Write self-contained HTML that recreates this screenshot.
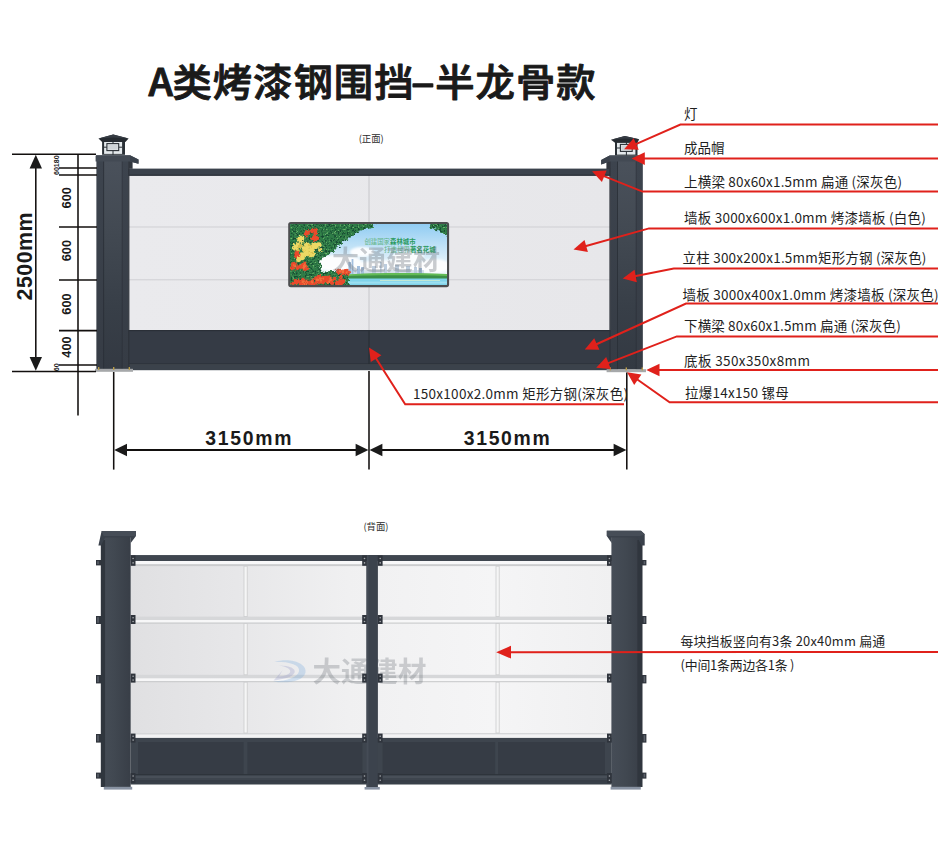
<!DOCTYPE html>
<html lang="zh-CN">
<head>
<meta charset="utf-8">
<title>A类烤漆钢围挡-半龙骨款</title>
<style>
html,body{margin:0;padding:0;background:#fff;}
body{width:950px;height:855px;overflow:hidden;position:relative;}
svg{position:absolute;left:0;top:0;display:block;}
text{font-family:"Liberation Sans","Noto Sans CJK SC",sans-serif;}
.cjk{font-family:"Noto Sans CJK SC","Liberation Sans",sans-serif;}
.lbl{font-family:"Noto Sans CJK SC","Liberation Sans",sans-serif;font-size:13.5px;fill:#1f1f1f;}
.dim{font-family:"Liberation Sans",sans-serif;font-weight:700;fill:#1a1a1a;}
.red{stroke:#e0211b;stroke-width:2;fill:none;stroke-linejoin:miter;}
.redf{fill:#e0211b;stroke:none;}
.blk{stroke:#120f0e;stroke-width:1.55;fill:none;}
</style>
</head>
<body>
<svg width="950" height="855" viewBox="0 0 950 855">
<defs>
  <linearGradient id="gPanel" x1="0" y1="0" x2="1" y2="0">
    <stop offset="0" stop-color="#eaeaed"/>
    <stop offset="1" stop-color="#e7e7ea"/>
  </linearGradient>
  <linearGradient id="gBack" x1="0" y1="0" x2="1" y2="0">
    <stop offset="0" stop-color="#e0e0e2"/>
    <stop offset="0.22" stop-color="#e7e7e9"/>
    <stop offset="0.45" stop-color="#f0f0f1"/>
    <stop offset="0.75" stop-color="#f5f5f6"/>
    <stop offset="1" stop-color="#f0f0f1"/>
  </linearGradient>
  <linearGradient id="gSky" x1="0" y1="0" x2="0" y2="1">
    <stop offset="0" stop-color="#8ecbf2"/>
    <stop offset="0.55" stop-color="#d9edf9"/>
    <stop offset="0.8" stop-color="#eef6fb"/>
    <stop offset="1" stop-color="#8fd6ea"/>
  </linearGradient>
  <clipPath id="cpPoster"><rect x="290" y="224" width="157" height="61" rx="1"/></clipPath>
  <filter id="blur1" x="-20%" y="-20%" width="140%" height="140%"><feGaussianBlur stdDeviation="1.2"/></filter>
  <filter id="blur2" x="-20%" y="-20%" width="140%" height="140%"><feGaussianBlur stdDeviation="0.5"/></filter>
  <filter id="leafy" x="-10%" y="-10%" width="120%" height="120%" color-interpolation-filters="sRGB">
    <feTurbulence type="fractalNoise" baseFrequency="0.3" numOctaves="2" seed="7" result="n1"/>
    <feDisplacementMap in="SourceGraphic" in2="n1" scale="7" xChannelSelector="R" yChannelSelector="G" result="shape"/>
    <feTurbulence type="fractalNoise" baseFrequency="0.55" numOctaves="2" seed="11" result="n2"/>
    <feColorMatrix in="n2" type="matrix" values="0 0 0 0 0.42  0 0 0 0 0.72  0 0 0 0 0.42  5 0 0 0 -2.95" result="light"/>
    <feColorMatrix in="n2" type="matrix" values="0 0 0 0 0.09  0 0 0 0 0.30  0 0 0 0 0.20  0 5 0 0 -2.4" result="dark"/>
    <feComposite in="light" in2="shape" operator="in" result="l2"/>
    <feComposite in="dark" in2="shape" operator="in" result="d2"/>
    <feMerge result="m"><feMergeNode in="shape"/><feMergeNode in="d2"/><feMergeNode in="l2"/></feMerge>
    <feGaussianBlur in="m" stdDeviation="0.45"/>
  </filter>
  <filter id="ragged" x="-20%" y="-20%" width="140%" height="140%" color-interpolation-filters="sRGB">
    <feTurbulence type="fractalNoise" baseFrequency="0.6" numOctaves="2" seed="5" result="n"/>
    <feDisplacementMap in="SourceGraphic" in2="n" scale="3.5" xChannelSelector="R" yChannelSelector="B" result="d"/>
    <feGaussianBlur in="d" stdDeviation="0.35"/>
  </filter>
  <linearGradient id="gPostL" x1="0" y1="0" x2="1" y2="0">
    <stop offset="0" stop-color="#464d57"/><stop offset="0.45" stop-color="#414851"/><stop offset="1" stop-color="#383e47"/>
  </linearGradient>
  <linearGradient id="gPostR" x1="0" y1="0" x2="1" y2="0">
    <stop offset="0" stop-color="#383e47"/><stop offset="0.55" stop-color="#414851"/><stop offset="1" stop-color="#464d57"/>
  </linearGradient>
  <linearGradient id="gFacet" x1="0" y1="0" x2="0" y2="1">
    <stop offset="0" stop-color="#4a515b"/><stop offset="0.35" stop-color="#424952"/><stop offset="0.7" stop-color="#383f48"/><stop offset="1" stop-color="#333942"/>
  </linearGradient>
  <linearGradient id="gSide" x1="0" y1="0" x2="0" y2="1">
    <stop offset="0" stop-color="#3d444e"/><stop offset="1" stop-color="#363c45"/>
  </linearGradient>
</defs>

<!-- ================= TITLE ================= -->
<g id="title" class="cjk" font-size="38" font-weight="500" fill="#1a1a1a" stroke="#1a1a1a" stroke-width="1" stroke-linejoin="round" stroke-linecap="round" letter-spacing="1">
  <text class="cjk" transform="translate(148.6,96) scale(1.035,1)">A</text>
  <text class="cjk" transform="translate(172.4,96) scale(1.035,1)">类烤漆钢围挡</text>
  <text class="cjk" transform="translate(410,96) scale(1.9,1)">-</text>
  <text class="cjk" transform="translate(435.2,96) scale(1.035,1)">半龙骨款</text>
</g>

<!-- ================= FRONT VIEW ================= -->
<g id="front">
  <text class="cjk" x="371.2" y="142.4" font-size="9.4" fill="#2a2a2a" text-anchor="middle">(正面)</text>

  <!-- wall panels -->
  <rect x="129" y="175" width="482" height="156" fill="url(#gPanel)"/>
  <line x1="129" y1="227" x2="611" y2="227" stroke="#cfcfd3" stroke-width="1"/>
  <line x1="129" y1="279.8" x2="611" y2="279.8" stroke="#cfcfd3" stroke-width="1"/>
  <line x1="369" y1="175" x2="369" y2="331" stroke="#c6c6ca" stroke-width="1"/>
  <!-- top beam -->
  <rect x="128" y="168.6" width="484" height="7" fill="#3b424c"/>
  <rect x="128" y="174.6" width="484" height="1.2" fill="#2b3038"/>
  <!-- dark lower panel -->
  <rect x="128" y="330" width="484" height="34.5" fill="#353b45"/>
  <rect x="128" y="330" width="484" height="1.2" fill="#2a2f37"/>
  <rect x="128" y="363.6" width="484" height="1.2" fill="#262b32"/>
  <rect x="128" y="364.8" width="484" height="5.4" fill="#3b424b"/>
  <line x1="369" y1="331" x2="369" y2="364" stroke="#272c33" stroke-width="1"/>

  <!-- left post -->
  <g id="postL">
    <rect x="96.6" y="160" width="31.8" height="209" fill="url(#gFacet)"/>
    <rect x="96.6" y="160" width="6.6" height="209" fill="url(#gSide)"/>
    <rect x="103.2" y="160" width="0.9" height="209" fill="#2b3038"/>
    <rect x="121.8" y="160" width="0.9" height="209" fill="#2b3038"/>
    <rect x="122.7" y="160" width="5.7" height="209" fill="url(#gSide)"/>
    <rect x="128.2" y="161" width="1.2" height="208" fill="#2d323a"/>
    <rect x="128.4" y="161" width="4.2" height="7.8" fill="#31363e"/>
    <!-- cap -->
    <polygon points="96.2,155.2 130,155.2 138.5,159.4 138.5,163.8 130,161.6 95.6,161.4 95.6,156" fill="#434a54"/>
    <polygon points="130,155.2 138.5,159.4 138.5,163.8 130,161.6" fill="#3a414b"/>
    <rect x="96" y="155.1" width="34" height="0.9" fill="#525963"/>
    <!-- base plate -->
    <rect x="95" y="368.8" width="38" height="3" fill="#a6a8aa"/>
    <rect x="98" y="367" width="1.4" height="3" fill="#b79b4a"/>
    <rect x="113" y="367" width="1.4" height="3" fill="#b79b4a"/>
    <rect x="128.6" y="367" width="1.4" height="3" fill="#b79b4a"/>
    <!-- lamp -->
    <g id="lampL">
      <rect x="102.1" y="141" width="22.9" height="13.8" fill="#2a3036"/>
      <rect x="104.1" y="141.6" width="18" height="12.3" fill="#e4e9ec"/>
      <g stroke="#2a3036" stroke-width="1" fill="none">
        <line x1="113" y1="141" x2="113" y2="155"/>
        <line x1="104" y1="147.2" x2="107" y2="147.2"/>
        <line x1="118.6" y1="147.2" x2="122.2" y2="147.2"/>
      </g>
      <rect x="106.9" y="143.6" width="11.8" height="7" fill="#dfe3e6" stroke="#2a3036" stroke-width="1.1"/>
      <rect x="108.1" y="144.9" width="9.4" height="4.4" fill="#cfd4d8"/>
      <polygon points="98.5,138.6 113.2,134.4 128.6,138.6 125.4,142 102.1,142" fill="#262b31"/>
      <polygon points="98.5,138.6 113.2,134.4 128.6,138.6 113.2,137.4" fill="#363c44"/>
    </g>
  </g>

  <!-- right post -->
  <g id="postR">
    <rect x="610.4" y="160" width="32.2" height="209.6" fill="url(#gFacet)"/>
    <rect x="610.4" y="160" width="6.6" height="209.6" fill="url(#gSide)"/>
    <rect x="617" y="160" width="0.9" height="209.6" fill="#2b3038"/>
    <rect x="635.8" y="160" width="0.9" height="209.6" fill="#2b3038"/>
    <rect x="636.7" y="160" width="5.9" height="209.6" fill="url(#gSide)"/>
    <rect x="609.4" y="161" width="1.2" height="208" fill="#2d323a"/>
    <rect x="606.4" y="161" width="4.2" height="8" fill="#31363e"/>
    <polygon points="642.6,155.4 609.6,155.4 601.2,160 601.2,164.4 609.6,161.6 643,161.4 643,156" fill="#434a54"/>
    <polygon points="609.6,155.4 601.2,160 601.2,164.4 609.6,161.6" fill="#3a414b"/>
    <rect x="609.6" y="155.3" width="33" height="0.9" fill="#525963"/>
    <rect x="606.6" y="369.2" width="39.4" height="3" fill="#a6a8aa"/>
    <rect x="609.6" y="367.4" width="1.4" height="3" fill="#b79b4a"/>
    <rect x="625.6" y="367.4" width="1.4" height="3" fill="#b79b4a"/>
    <rect x="641.6" y="367.4" width="1.4" height="3" fill="#b79b4a"/>
    <g id="lampR">
      <rect x="615" y="142" width="22.5" height="13.4" fill="#2a3036"/>
      <rect x="617" y="142.6" width="18.4" height="12" fill="#e4e9ec"/>
      <g stroke="#2a3036" stroke-width="1" fill="none">
        <line x1="626.4" y1="142" x2="626.4" y2="155.4"/>
        <line x1="617" y1="148" x2="620.6" y2="148"/>
        <line x1="632" y1="148" x2="635.4" y2="148"/>
      </g>
      <rect x="620.4" y="144.4" width="11.8" height="7" fill="#dfe3e6" stroke="#2a3036" stroke-width="1.1"/>
      <rect x="621.6" y="145.7" width="9.4" height="4.4" fill="#cfd4d8"/>
      <polygon points="611,139.8 624.8,136 639.2,139.2 637.4,142.8 615,142.8" fill="#262b31"/>
      <polygon points="611,139.8 624.8,136 639.2,139.2 624.8,138.6" fill="#363c44"/>
    </g>
  </g>

  <!-- poster -->
  <g id="poster">
    <rect x="288.2" y="222" width="160.9" height="65.2" rx="2.6" fill="#4c4d4f"/>
    <g clip-path="url(#cpPoster)">
      <rect x="289" y="223" width="159" height="63" fill="url(#gSky)"/>
      <!-- clouds -->
      <g filter="url(#blur1)" fill="#ffffff" opacity="0.92">
        <ellipse cx="338" cy="263" rx="24" ry="8"/>
        <ellipse cx="392" cy="267" rx="40" ry="7"/>
        <ellipse cx="434" cy="266" rx="16" ry="7"/>
        <ellipse cx="362" cy="252" rx="12" ry="5"/>
        <ellipse cx="408" cy="257" rx="16" ry="5"/>
      </g>
      <!-- skyline -->
      <g fill="#8aa6c4" opacity="0.55" filter="url(#blur2)">
        <rect x="340" y="270" width="84" height="4" opacity="0.6"/>
        <rect x="348.4" y="262" width="2.6" height="12" fill="#5b8dc4"/>
        <rect x="351.6" y="259" width="1.8" height="15" fill="#5b8dc4"/>
        <rect x="357" y="266" width="3" height="8" fill="#5b8dc4"/>
        <rect x="361" y="267" width="3" height="7" fill="#6c98c8"/>
        <rect x="372" y="266" width="4" height="8"/>
        <rect x="380" y="262" width="1.6" height="12"/>
        <rect x="384" y="264" width="3" height="10"/>
        <rect x="395" y="265" width="4" height="9"/>
        <rect x="406" y="266" width="4" height="8"/>
        <rect x="414" y="267" width="3" height="7"/>
        <rect x="419" y="268" width="3" height="6" fill="#5b8dc4"/>
      </g>
      <!-- water -->
      <rect x="330" y="278" width="120" height="9" fill="#7fd3ea"/>
      <rect x="340" y="281.6" width="110" height="2" fill="#a5e2f1" opacity="0.8"/>
      <rect x="380" y="280.2" width="60" height="0.7" fill="#e9f3c9" opacity="0.9"/>
      <!-- island -->
      <path d="M326 278.6 C350 272.6 400 273 449 274.2 L449 278.6Z" fill="#3b8f47"/>
      <path d="M334 275.6 C365 272.4 410 272.8 449 274 L449 276 C410 275 365 275 334 276.6Z" fill="#63bb56"/>
      <!-- foliage -->
      <g filter="url(#leafy)">
        <path d="M284 218 L382 218 C376 228 364 228 356 233 C349 238 344 241 338 247 C332 253 328 255 322 258 C319 262 320 268 322 272 C330 271 340 270 349 273 L349 291 L284 291Z" fill="#2f7d47"/>
        <path d="M423 218 L453 218 L453 237 C447 236 440 233 434 229 C429 226 426 222 423 218Z" fill="#2f7d47"/>
      </g>
      <!-- flowers -->
      <g filter="url(#ragged)">
        <g fill="#ecd965"><circle cx="299.2" cy="239.9" r="2.2"/><circle cx="301.5" cy="238.0" r="2.6"/><circle cx="301.6" cy="238.4" r="2.6"/><circle cx="300.1" cy="238.2" r="2.4"/><circle cx="300.6" cy="240.3" r="2.8"/><circle cx="296.6" cy="245.8" r="2.1"/><circle cx="306.4" cy="249.6" r="2.6"/><circle cx="313.9" cy="246.6" r="2.8"/><circle cx="295.0" cy="246.1" r="2.7"/><circle cx="312.5" cy="246.8" r="2.1"/><circle cx="299.7" cy="245.7" r="2.3"/><circle cx="314.9" cy="245.6" r="3.0"/><circle cx="316.8" cy="244.8" r="2.4"/><circle cx="306.0" cy="244.6" r="2.5"/><circle cx="317.6" cy="245.1" r="2.7"/><circle cx="295.6" cy="247.7" r="3.0"/><circle cx="297.9" cy="244.5" r="2.1"/><circle cx="307.3" cy="244.6" r="2.1"/><circle cx="306.1" cy="249.6" r="2.5"/><circle cx="303.3" cy="248.0" r="2.1"/><circle cx="308.4" cy="245.4" r="2.7"/><circle cx="319.0" cy="244.8" r="2.6"/><circle cx="309.2" cy="245.3" r="2.3"/><circle cx="320.1" cy="250.0" r="2.1"/><circle cx="312.0" cy="249.7" r="2.3"/><circle cx="310.1" cy="250.3" r="2.4"/><circle cx="310.6" cy="254.4" r="2.9"/><circle cx="305.9" cy="252.6" r="3.0"/><circle cx="309.9" cy="253.4" r="2.4"/><circle cx="313.1" cy="254.3" r="2.0"/><circle cx="311.6" cy="252.5" r="2.5"/><circle cx="306.9" cy="253.3" r="2.4"/><circle cx="305.9" cy="254.7" r="2.1"/><circle cx="301.9" cy="255.1" r="2.9"/><circle cx="302.0" cy="257.5" r="2.8"/><circle cx="298.7" cy="258.7" r="2.5"/><circle cx="298.6" cy="259.8" r="2.4"/></g>
        <g fill="#d9bf4a"><circle cx="303.2" cy="250.2" r="1.2"/><circle cx="310.2" cy="246.0" r="1.5"/><circle cx="300.4" cy="245.3" r="1.6"/><circle cx="298.3" cy="250.7" r="1.6"/><circle cx="308.8" cy="245.1" r="1.0"/><circle cx="299.2" cy="247.3" r="1.4"/><circle cx="312.0" cy="253.1" r="1.1"/><circle cx="309.6" cy="251.8" r="1.1"/><circle cx="309.5" cy="255.2" r="1.0"/></g>
        <g fill="#ea4a2c"><circle cx="314.7" cy="237.4" r="2.5"/><circle cx="314.3" cy="239.6" r="1.9"/><circle cx="316.1" cy="238.3" r="2.6"/><circle cx="314.9" cy="230.2" r="1.7"/><circle cx="315.1" cy="231.1" r="2.3"/><circle cx="312.7" cy="238.4" r="1.9"/><circle cx="312.3" cy="231.1" r="2.2"/><circle cx="315.3" cy="233.7" r="1.9"/><circle cx="305.9" cy="234.4" r="2.2"/><circle cx="307.1" cy="232.6" r="2.7"/><circle cx="298.4" cy="254.9" r="2.2"/><circle cx="296.0" cy="256.2" r="1.8"/><circle cx="296.7" cy="254.9" r="2.0"/><circle cx="297.3" cy="255.5" r="1.8"/><circle cx="297.1" cy="254.6" r="2.2"/><circle cx="296.7" cy="253.2" r="2.3"/><circle cx="297.4" cy="267.9" r="1.9"/><circle cx="303.7" cy="267.1" r="2.3"/><circle cx="304.5" cy="263.7" r="2.3"/><circle cx="300.8" cy="266.9" r="2.1"/><circle cx="293.2" cy="264.4" r="2.3"/><circle cx="294.7" cy="263.8" r="2.1"/><circle cx="298.8" cy="266.2" r="1.7"/><circle cx="303.1" cy="265.2" r="2.5"/><circle cx="292.3" cy="268.3" r="2.3"/><circle cx="305.9" cy="268.4" r="2.5"/><circle cx="338.8" cy="272.2" r="1.9"/><circle cx="345.5" cy="271.5" r="1.9"/><circle cx="338.8" cy="271.1" r="2.6"/><circle cx="347.5" cy="272.4" r="2.4"/><circle cx="342.4" cy="273.1" r="2.1"/><circle cx="344.0" cy="271.7" r="2.0"/><circle cx="342.9" cy="271.5" r="2.1"/><circle cx="347.1" cy="270.6" r="1.8"/><circle cx="345.7" cy="270.8" r="2.0"/><circle cx="346.2" cy="273.5" r="1.9"/><circle cx="315.9" cy="278.4" r="2.0"/><circle cx="337.4" cy="283.3" r="2.5"/><circle cx="340.4" cy="283.0" r="2.6"/><circle cx="340.9" cy="283.3" r="1.8"/><circle cx="323.4" cy="278.2" r="2.3"/><circle cx="328.5" cy="278.9" r="2.5"/><circle cx="325.8" cy="278.0" r="2.0"/><circle cx="327.6" cy="280.8" r="2.3"/><circle cx="327.0" cy="277.8" r="2.1"/><circle cx="323.6" cy="277.7" r="2.2"/><circle cx="319.7" cy="281.5" r="2.4"/><circle cx="318.2" cy="280.9" r="2.0"/><circle cx="327.2" cy="280.7" r="2.5"/><circle cx="339.8" cy="281.6" r="1.9"/><circle cx="329.9" cy="278.8" r="1.7"/><circle cx="330.2" cy="279.8" r="2.6"/><circle cx="323.6" cy="282.3" r="2.2"/><circle cx="317.1" cy="281.5" r="2.0"/><circle cx="329.7" cy="277.0" r="1.7"/><circle cx="340.9" cy="276.8" r="1.8"/><circle cx="318.9" cy="277.2" r="2.5"/><circle cx="343.1" cy="281.0" r="2.1"/><circle cx="340.0" cy="280.0" r="1.8"/><circle cx="334.2" cy="279.0" r="2.0"/><circle cx="323.5" cy="279.2" r="1.9"/><circle cx="332.0" cy="282.6" r="2.3"/><circle cx="292.9" cy="283.4" r="1.7"/><circle cx="303.0" cy="284.3" r="2.4"/><circle cx="312.2" cy="283.8" r="2.0"/><circle cx="295.8" cy="282.3" r="2.4"/><circle cx="297.7" cy="281.7" r="2.4"/><circle cx="300.2" cy="283.0" r="2.2"/><circle cx="312.7" cy="280.1" r="1.9"/><circle cx="309.4" cy="283.3" r="1.8"/><circle cx="295.6" cy="281.1" r="2.2"/><circle cx="312.1" cy="281.1" r="1.9"/><circle cx="307.4" cy="282.1" r="2.5"/><circle cx="314.2" cy="284.7" r="2.4"/><circle cx="303.4" cy="280.3" r="2.5"/><circle cx="301.3" cy="282.3" r="2.3"/></g>
        <g fill="#f0703c"><circle cx="304.7" cy="266.2" r="1.5"/><circle cx="304.7" cy="264.3" r="1.1"/><circle cx="303.8" cy="267.1" r="1.5"/><circle cx="294.6" cy="266.1" r="1.5"/><circle cx="329.7" cy="281.4" r="1.5"/><circle cx="320.5" cy="278.3" r="1.4"/><circle cx="330.7" cy="279.0" r="1.4"/><circle cx="323.3" cy="278.6" r="1.1"/><circle cx="317.1" cy="280.0" r="1.4"/><circle cx="327.6" cy="282.8" r="0.9"/><circle cx="320.5" cy="278.7" r="1.2"/><circle cx="321.2" cy="281.3" r="1.2"/><circle cx="304.8" cy="284.4" r="1.4"/><circle cx="311.6" cy="281.6" r="1.1"/><circle cx="312.4" cy="282.6" r="1.1"/><circle cx="302.8" cy="281.7" r="1.4"/><circle cx="305.9" cy="281.4" r="1.5"/><circle cx="342.9" cy="272.0" r="1.3"/><circle cx="346.7" cy="272.4" r="0.9"/><circle cx="340.0" cy="271.2" r="1.2"/></g>
      </g>
      <!-- slogan -->
      <text class="cjk" x="364.4" y="243.8" font-size="6.4" fill="#5fb487" textLength="51.2" lengthAdjust="spacingAndGlyphs"><tspan font-weight="400">创建国家</tspan><tspan font-weight="700" fill="#2b9a5f">森林城市</tspan></text>
      <text class="cjk" x="384" y="251.6" font-size="6.4" fill="#5fb487" textLength="51.8" lengthAdjust="spacingAndGlyphs"><tspan font-weight="400">打造世界</tspan><tspan font-weight="700" fill="#2b9a5f">著名花城</tspan></text>
      <!-- watermark -->
      <text class="cjk" x="332" y="270" font-size="27" font-weight="700" fill="#6f757d" opacity="0.36" textLength="108" lengthAdjust="spacingAndGlyphs">大通建材</text>
    </g>
  </g>

  <!-- vertical dimension (left) -->
  <g class="blk">
    <line x1="12" y1="154.2" x2="96" y2="154.2"/>
    <line x1="12" y1="371.4" x2="96" y2="371.4"/>
    <line x1="35.8" y1="160" x2="35.8" y2="366"/>
    <line x1="78" y1="154.2" x2="78" y2="415.6"/>
    <line x1="59" y1="168" x2="97" y2="168"/>
    <line x1="59" y1="175" x2="97" y2="175"/>
    <line x1="59" y1="227" x2="97" y2="227"/>
    <line x1="59" y1="280" x2="97" y2="280"/>
    <line x1="59" y1="330.6" x2="97" y2="330.6"/>
    <line x1="59" y1="365" x2="97" y2="365"/>
    <line x1="113.7" y1="372" x2="113.7" y2="469.6"/>
    <line x1="369" y1="371" x2="369" y2="469.6"/>
    <line x1="626.8" y1="372.4" x2="626.8" y2="469.6"/>
    <line x1="122" y1="450" x2="360" y2="450" stroke-width="1.9"/>
    <line x1="378" y1="450" x2="618" y2="450" stroke-width="1.9"/>
  </g>
  <g fill="#1a1a1a">
    <polygon points="35.8,154.8 29.6,168.6 42,168.6"/>
    <polygon points="35.8,370.8 29.6,357 42,357"/>
    <polygon points="114.2,450 127,443.7 127,456.3"/>
    <polygon points="368.4,450 355.6,443.7 355.6,456.3"/>
    <polygon points="369.6,450 382.4,443.7 382.4,456.3"/>
    <polygon points="626.4,450 613.6,443.7 613.6,456.3"/>
  </g>
  <text class="dim" font-size="21.4" transform="translate(31.8,256.2) rotate(-90)" text-anchor="middle" letter-spacing="0.5">2500mm</text>
  <text class="dim" font-size="12.8" transform="translate(70.8,197.8) rotate(-90)" text-anchor="middle">600</text>
  <text class="dim" font-size="12.8" transform="translate(70.8,250.6) rotate(-90)" text-anchor="middle">600</text>
  <text class="dim" font-size="12.8" transform="translate(70.8,304) rotate(-90)" text-anchor="middle">600</text>
  <text class="dim" font-size="12.8" transform="translate(70.8,347) rotate(-90)" text-anchor="middle">400</text>
  <text font-size="7.1" font-weight="700" fill="#1a1a1a" transform="translate(59.3,165.2) rotate(-90)" text-anchor="middle">60180</text>
  <text font-size="7.1" font-weight="700" fill="#1a1a1a" transform="translate(59,367.2) rotate(-90)" text-anchor="middle">60</text>
  <text class="dim" font-size="19.4" x="249.2" y="445.4" text-anchor="middle" letter-spacing="1.7">3150mm</text>
  <text class="dim" font-size="19.4" x="507.6" y="445.4" text-anchor="middle" letter-spacing="1.7">3150mm</text>

  <!-- red callouts -->
  <g class="red">
    <polyline points="938.0,124.5 680.4,124.5 635.3,144.4"/>
    <polyline points="938.0,158.6 643.8,158.6"/>
    <polyline points="938.0,191.6 642.5,191.6 603.3,175.9"/>
    <polyline points="938.0,228.4 649.0,228.4 585.2,246.3"/>
    <polyline points="938.0,268.6 673.8,268.6 634.7,276.2"/>
    <polyline points="938.0,303.6 686.0,303.6 595.9,344.5"/>
    <polyline points="938.0,336.4 676.8,336.4 607.6,363.4"/>
    <polyline points="938.0,370.0 658.5,370.0"/>
    <polyline points="938.0,402.2 669.6,402.2 637.0,379.2"/>
    <polyline points="624.0,404.2 405.2,404.2 375.6,357.8"/>
  </g>
  <g class="redf">
    <polygon points="624.1,149.3 638.7,149.7 633.6,138.2"/>
    <polygon points="631.6,158.6 644.8,164.9 644.8,152.3"/>
    <polygon points="592.0,171.3 601.9,182.1 606.6,170.4"/>
    <polygon points="573.5,249.6 587.9,252.1 584.5,240.0"/>
    <polygon points="622.7,278.5 636.9,282.2 634.5,269.8"/>
    <polygon points="584.8,349.5 599.4,349.8 594.2,338.3"/>
    <polygon points="596.2,367.8 610.8,368.9 606.2,357.1"/>
    <polygon points="646.3,370.0 659.5,376.3 659.5,363.7"/>
    <polygon points="627.0,372.2 634.2,385.0 641.4,374.6"/>
    <polygon points="369.0,347.5 370.8,362.0 381.4,355.2"/>
  </g>

  <!-- labels -->
  <text class="lbl" x="684" y="119.4">灯</text>
  <text class="lbl" x="684" y="152.8">成品帽</text>
  <text class="lbl" x="684" y="186.6" textLength="218">上横梁 80x60x1.5mm 扁通 (深灰色)</text>
  <text class="lbl" x="684" y="222.8" textLength="241.8">墙板 3000x600x1.0mm 烤漆墙板 (白色)</text>
  <text class="lbl" x="682.6" y="263.2" textLength="243.8">立柱 300x200x1.5mm矩形方钢 (深灰色)</text>
  <text class="lbl" x="682.6" y="299.8" textLength="256">墙板 3000x400x1.0mm 烤漆墙板 (深灰色)</text>
  <text class="lbl" x="684" y="331.2" textLength="216.8">下横梁 80x60x1.5mm 扁通 (深灰色)</text>
  <text class="lbl" x="684" y="366.2" textLength="126">底板 350x350x8mm</text>
  <text class="lbl" x="685" y="397.6" textLength="103.8">拉爆14x150 镙母</text>
  <text class="lbl" x="413" y="399.4" textLength="215">150x100x2.0mm 矩形方钢(深灰色)</text>
</g>

<!-- ================= BACK VIEW ================= -->
<g id="back">
  <text class="cjk" x="376" y="529.6" font-size="9.4" fill="#2a2a2a" text-anchor="middle">(背面)</text>

  <!-- panels -->
  <rect x="131" y="561" width="481" height="177" fill="url(#gBack)"/>
  <!-- rails -->
  <g>
    <rect x="131" y="560.6" width="481" height="3.6" fill="#f8f8f9"/>
    <rect x="131" y="564.2" width="481" height="1.9" fill="#cbccce"/>
    <rect x="131" y="616.6" width="481" height="3.4" fill="#d6d7d9"/>
    <rect x="131" y="620" width="481" height="2.6" fill="#f7f7f8"/>
    <rect x="131" y="622.6" width="481" height="1" fill="#c6c7c9"/>
    <rect x="131" y="674.8" width="481" height="3.6" fill="#d6d7d9"/>
    <rect x="131" y="678.4" width="481" height="2.8" fill="#f7f7f8"/>
    <rect x="131" y="681.2" width="481" height="1" fill="#c6c7c9"/>
    <rect x="131" y="733" width="481" height="1.6" fill="#d6d7d9"/>
    <rect x="131" y="734.6" width="481" height="3.4" fill="#f3f3f4"/>
  </g>
  <!-- vertical stiffeners -->
  <g fill="#f5f5f6" stroke="#cbccce" stroke-width="0.8">
    <rect x="244" y="566.2" width="3.2" height="50.4"/>
    <rect x="244" y="623.6" width="3.2" height="51.2"/>
    <rect x="244" y="682.2" width="3.2" height="50.8"/>
    <rect x="496" y="566.2" width="3.2" height="50.4"/>
    <rect x="496" y="623.6" width="3.2" height="51.2"/>
    <rect x="496" y="682.2" width="3.2" height="50.8"/>
  </g>
  <!-- watermark -->
  <g opacity="0.27">
    <path d="M274.4 661.8 C292 657 308 664 305.4 673 C303 681 288 684 273 681.4 C288 681 298 677 299 671 C300 665 290 661.6 274.4 661.8Z" fill="#6fa6dc"/>
    <path d="M279 665.4 C290 665.6 296 668.4 294.6 672.6 C293 677 284 679.4 273.6 680.6 L282.4 670.6 L279 676.6 C285 676 289.6 674.4 290.2 671.8 C290.8 668.8 286 666.6 279 665.4Z" fill="#8a90c4"/>
    <text class="cjk" x="312.6" y="681.6" font-size="28" font-weight="700" fill="#5d636b" textLength="114" lengthAdjust="spacingAndGlyphs">大通建材</text>
  </g>

  <!-- top beam -->
  <rect x="130.7" y="555" width="481" height="6" fill="#3f464f"/>
  <rect x="130.7" y="555" width="481" height="0.9" fill="#4b525b"/>
  <!-- bottom dark -->
  <rect x="130.7" y="737.9" width="481" height="46.4" fill="#3e454e"/>
  <rect x="138" y="742" width="105.6" height="32.3" fill="#363c45"/>
  <rect x="247.4" y="742" width="115" height="32.3" fill="#363c45"/>
  <rect x="382.6" y="742" width="112.6" height="32.3" fill="#363c45"/>
  <rect x="498" y="742" width="107" height="32.3" fill="#363c45"/>
  <rect x="130.7" y="774.3" width="481" height="1" fill="#2a2f36"/>
  <rect x="130.7" y="775.6" width="481" height="2.4" fill="#484f58"/>
  <rect x="130.7" y="780.6" width="481" height="0.9" fill="#2f343c"/>
  <rect x="130.7" y="781.5" width="481" height="2.8" fill="#383f48"/>

  <!-- left post -->
  <rect x="100.9" y="536" width="29.8" height="251" fill="url(#gPostL)"/>
  <rect x="100.9" y="540" width="4.2" height="247" fill="#30363e"/>
  <polygon points="101.6,531.1 136,531.1 136,536 130.7,543 130.7,537.6 105,537.6 101.2,545.5 98.4,545.5" fill="#3a414b"/>
  <polygon points="101.6,531.1 136,531.1 136,536 103.6,536 " fill="#464d57"/>
  <rect x="103.8" y="786.8" width="28.4" height="2.8" fill="#8892a2"/>

  <!-- center post -->
  <rect x="366.5" y="555" width="11.4" height="232" fill="#3c434d"/>
  <rect x="366.5" y="555" width="2" height="232" fill="#454c56"/>
  <rect x="364.6" y="787" width="15.2" height="2.6" fill="#8892a2"/>

  <!-- right post -->
  <rect x="611.4" y="536" width="30.9" height="251" fill="url(#gPostL)"/>
  <rect x="637.4" y="540" width="4.9" height="247" fill="#30363e"/>
  <polygon points="641,530.8 606.8,530.8 606.8,536 611.7,543 611.7,537.6 637.6,537.6 641.4,545.5 644.7,545.5 644.7,534" fill="#3a414b"/>
  <polygon points="641,530.8 606.8,530.8 606.8,536 640,536 644.7,534.4" fill="#464d57"/>
  <rect x="610.6" y="786.8" width="30.2" height="2.8" fill="#8892a2"/>

  <!-- brackets -->
  <g>
    <rect x="130.7" y="555.4" width="4.8" height="10.4" fill="#2f343c"/><circle cx="133.1" cy="558.5" r="0.8" fill="#a9acb0"/><circle cx="133.1" cy="562.9" r="0.8" fill="#a9acb0"/>
    <rect x="362.2" y="555.4" width="4.6" height="10.4" fill="#2f343c"/><circle cx="364.5" cy="558.5" r="0.8" fill="#a9acb0"/><circle cx="364.5" cy="562.9" r="0.8" fill="#a9acb0"/>
    <rect x="377.8" y="555.4" width="4.8" height="10.4" fill="#2f343c"/><circle cx="380.2" cy="558.5" r="0.8" fill="#a9acb0"/><circle cx="380.2" cy="562.9" r="0.8" fill="#a9acb0"/>
    <rect x="607.0" y="555.4" width="4.8" height="10.4" fill="#2f343c"/><circle cx="609.4" cy="558.5" r="0.8" fill="#a9acb0"/><circle cx="609.4" cy="562.9" r="0.8" fill="#a9acb0"/>
    <rect x="130.7" y="615.0" width="4.8" height="9.0" fill="#2f343c"/><circle cx="133.1" cy="617.7" r="0.8" fill="#a9acb0"/><circle cx="133.1" cy="621.5" r="0.8" fill="#a9acb0"/>
    <rect x="362.2" y="615.0" width="4.6" height="9.0" fill="#2f343c"/><circle cx="364.5" cy="617.7" r="0.8" fill="#a9acb0"/><circle cx="364.5" cy="621.5" r="0.8" fill="#a9acb0"/>
    <rect x="377.8" y="615.0" width="4.8" height="9.0" fill="#2f343c"/><circle cx="380.2" cy="617.7" r="0.8" fill="#a9acb0"/><circle cx="380.2" cy="621.5" r="0.8" fill="#a9acb0"/>
    <rect x="607.0" y="615.0" width="4.8" height="9.0" fill="#2f343c"/><circle cx="609.4" cy="617.7" r="0.8" fill="#a9acb0"/><circle cx="609.4" cy="621.5" r="0.8" fill="#a9acb0"/>
    <rect x="130.7" y="673.6" width="4.8" height="9.0" fill="#2f343c"/><circle cx="133.1" cy="676.3" r="0.8" fill="#a9acb0"/><circle cx="133.1" cy="680.1" r="0.8" fill="#a9acb0"/>
    <rect x="362.2" y="673.6" width="4.6" height="9.0" fill="#2f343c"/><circle cx="364.5" cy="676.3" r="0.8" fill="#a9acb0"/><circle cx="364.5" cy="680.1" r="0.8" fill="#a9acb0"/>
    <rect x="377.8" y="673.6" width="4.8" height="9.0" fill="#2f343c"/><circle cx="380.2" cy="676.3" r="0.8" fill="#a9acb0"/><circle cx="380.2" cy="680.1" r="0.8" fill="#a9acb0"/>
    <rect x="607.0" y="673.6" width="4.8" height="9.0" fill="#2f343c"/><circle cx="609.4" cy="676.3" r="0.8" fill="#a9acb0"/><circle cx="609.4" cy="680.1" r="0.8" fill="#a9acb0"/>
    <rect x="130.7" y="733.6" width="4.8" height="9.0" fill="#2f343c"/><circle cx="133.1" cy="736.3" r="0.8" fill="#a9acb0"/><circle cx="133.1" cy="740.1" r="0.8" fill="#a9acb0"/>
    <rect x="362.2" y="733.6" width="4.6" height="9.0" fill="#2f343c"/><circle cx="364.5" cy="736.3" r="0.8" fill="#a9acb0"/><circle cx="364.5" cy="740.1" r="0.8" fill="#a9acb0"/>
    <rect x="377.8" y="733.6" width="4.8" height="9.0" fill="#2f343c"/><circle cx="380.2" cy="736.3" r="0.8" fill="#a9acb0"/><circle cx="380.2" cy="740.1" r="0.8" fill="#a9acb0"/>
    <rect x="607.0" y="733.6" width="4.8" height="9.0" fill="#2f343c"/><circle cx="609.4" cy="736.3" r="0.8" fill="#a9acb0"/><circle cx="609.4" cy="740.1" r="0.8" fill="#a9acb0"/>
    <rect x="130.7" y="773.0" width="4.8" height="10.0" fill="#2f343c"/><circle cx="133.1" cy="776.0" r="0.8" fill="#a9acb0"/><circle cx="133.1" cy="780.2" r="0.8" fill="#a9acb0"/>
    <rect x="362.2" y="773.0" width="4.6" height="10.0" fill="#2f343c"/><circle cx="364.5" cy="776.0" r="0.8" fill="#a9acb0"/><circle cx="364.5" cy="780.2" r="0.8" fill="#a9acb0"/>
    <rect x="377.8" y="773.0" width="4.8" height="10.0" fill="#2f343c"/><circle cx="380.2" cy="776.0" r="0.8" fill="#a9acb0"/><circle cx="380.2" cy="780.2" r="0.8" fill="#a9acb0"/>
    <rect x="607.0" y="773.0" width="4.8" height="10.0" fill="#2f343c"/><circle cx="609.4" cy="776.0" r="0.8" fill="#a9acb0"/><circle cx="609.4" cy="780.2" r="0.8" fill="#a9acb0"/>
    <rect x="96" y="560.0" width="5.2" height="5.4" fill="#30353d"/><rect x="97.2" y="561.2" width="1.6" height="3.0" fill="#5a6069"/>
    <rect x="641.4" y="560.0" width="5" height="5.4" fill="#30353d"/><rect x="643.6" y="561.2" width="1.6" height="3.0" fill="#5a6069"/>
    <rect x="96" y="616.0" width="5.2" height="8.0" fill="#30353d"/><rect x="97.2" y="617.2" width="1.6" height="5.6" fill="#5a6069"/>
    <rect x="641.4" y="616.0" width="5" height="8.0" fill="#30353d"/><rect x="643.6" y="617.2" width="1.6" height="5.6" fill="#5a6069"/>
    <rect x="96" y="675.0" width="5.2" height="8.4" fill="#30353d"/><rect x="97.2" y="676.2" width="1.6" height="6.0" fill="#5a6069"/>
    <rect x="641.4" y="675.0" width="5" height="8.4" fill="#30353d"/><rect x="643.6" y="676.2" width="1.6" height="6.0" fill="#5a6069"/>
    <rect x="96" y="734.0" width="5.2" height="8.6" fill="#30353d"/><rect x="97.2" y="735.2" width="1.6" height="6.2" fill="#5a6069"/>
    <rect x="641.4" y="734.0" width="5" height="8.6" fill="#30353d"/><rect x="643.6" y="735.2" width="1.6" height="6.2" fill="#5a6069"/>
    <rect x="96" y="772.6" width="5.2" height="6.0" fill="#30353d"/><rect x="97.2" y="773.8" width="1.6" height="3.6" fill="#5a6069"/>
    <rect x="641.4" y="772.6" width="5" height="6.0" fill="#30353d"/><rect x="643.6" y="773.8" width="1.6" height="3.6" fill="#5a6069"/>
  </g>

  <!-- red callout -->
  <line class="red" x1="938" y1="652" x2="508" y2="652.2"/>
  <polygon class="redf" points="496.2,652.2 511,645.8 511,658.6"/>
  <text class="lbl" x="680.4" y="646.2" style="font-size:12.9px" textLength="204.8">每块挡板竖向有3条 20x40mm 扁通</text>
  <text class="lbl" x="680.6" y="670.4" style="font-size:12.9px" textLength="113.8">(中间1条两边各1条 )</text>
</g>
</svg>
</body>
</html>
